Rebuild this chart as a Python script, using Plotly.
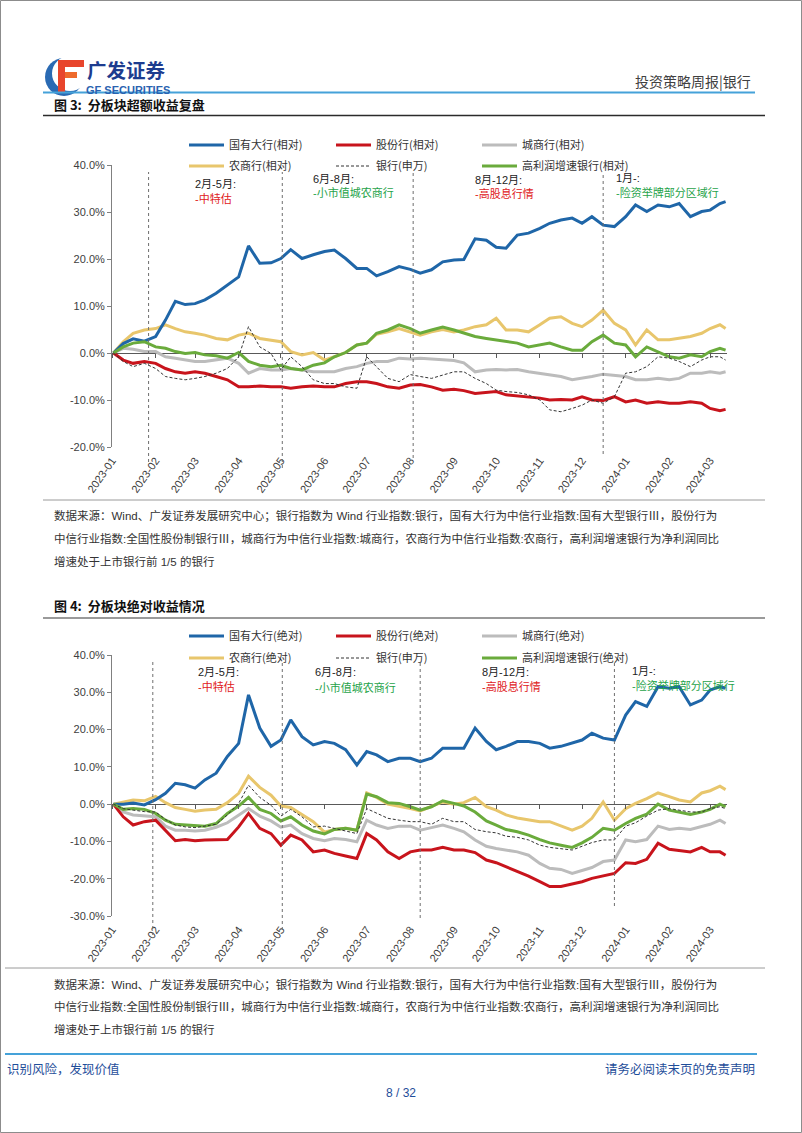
import plotly.graph_objects as go

W, H = 802, 1133


def fx(x):
    return x / W


def fy(y):
    return 1 - y / H


# ---------------- data ----------------
dates = [
    "2023-01-02", "2023-01-09", "2023-01-16", "2023-01-24",
    "2023-02-01", "2023-02-08", "2023-02-15", "2023-02-22",
    "2023-03-01", "2023-03-08", "2023-03-16", "2023-03-24",
    "2023-04-01", "2023-04-08", "2023-04-16", "2023-04-24",
    "2023-05-01", "2023-05-08", "2023-05-16", "2023-05-24",
    "2023-06-01", "2023-06-08", "2023-06-16", "2023-06-24",
    "2023-07-01", "2023-07-08", "2023-07-16", "2023-07-24",
    "2023-08-01", "2023-08-08", "2023-08-16", "2023-08-24",
    "2023-09-01", "2023-09-08", "2023-09-16", "2023-09-24",
    "2023-10-01", "2023-10-08", "2023-10-16", "2023-10-24",
    "2023-11-01", "2023-11-08", "2023-11-16", "2023-11-24",
    "2023-12-01", "2023-12-08", "2023-12-16", "2023-12-24",
    "2024-01-01", "2024-01-08", "2024-01-16", "2024-01-24",
    "2024-02-01", "2024-02-08", "2024-02-16", "2024-02-24",
    "2024-03-01", "2024-03-08", "2024-03-12",
]

month_ticks = [
    "2023-01-01", "2023-02-01", "2023-03-01", "2023-04-01", "2023-05-01",
    "2023-06-01", "2023-07-01", "2023-08-01", "2023-09-01", "2023-10-01",
    "2023-11-01", "2023-12-01", "2024-01-01", "2024-02-01", "2024-03-01",
]
month_labels = [
    "2023-01", "2023-02", "2023-03", "2023-04", "2023-05", "2023-06",
    "2023-07", "2023-08", "2023-09", "2023-10", "2023-11", "2023-12",
    "2024-01", "2024-02", "2024-03",
]

# Chart 1: excess (relative) returns, %
rel_big = [0, 2.0, 3.0, 2.5, 3.5, 7.0, 11.0, 10.3, 10.5, 11.3, 12.7, 14.5,
           16.2, 22.8, 19.1, 19.2, 20.1, 22.0, 20.1, 20.9, 21.6, 21.9, 20.1, 18.0,
           18.0, 16.4, 17.3, 18.4, 17.8, 17.0, 17.7, 19.4, 19.8, 19.9, 24.3, 24.0,
           22.5, 22.3, 25.1, 25.5, 26.5, 27.6, 28.3, 28.7, 27.6, 29.0, 27.2, 26.9,
           29.0, 31.5, 30.1, 31.5, 31.1, 31.8, 29.0, 30.1, 30.4, 31.8, 32.2]
rel_joint = [0, -1.5, -2.2, -1.8, -2.2, -3.3, -4.0, -4.3, -4.0, -4.3, -5.0, -5.7,
             -7.2, -7.2, -7.0, -7.2, -7.2, -7.5, -7.2, -7.0, -7.2, -7.2, -6.5, -6.1,
             -6.1, -6.5, -7.2, -7.5, -6.8, -6.7, -7.2, -7.9, -7.7, -8.0, -8.6, -8.4,
             -8.2, -8.9, -9.1, -9.3, -9.6, -10.0, -9.9, -10.0, -9.3, -10.0, -10.1, -9.3,
             -10.4, -10.0, -10.7, -10.4, -10.7, -10.7, -10.4, -10.7, -11.8, -12.3, -12.0]
rel_city = [0, 1.0, 0.8, 0.3, 0.3, -0.8, -1.1, -1.5, -1.8, -1.8, -1.5, -1.1,
            -2.2, -4.3, -3.3, -3.6, -3.6, -3.3, -3.6, -4.0, -4.0, -4.0, -3.3, -2.9,
            -2.2, -1.8, -1.8, -1.1, -1.3, -1.1, -1.3, -1.5, -1.6, -2.1, -4.0, -3.6,
            -3.5, -3.6, -3.5, -4.0, -4.3, -4.7, -5.0, -5.7, -5.4, -5.0, -4.5, -4.7,
            -5.0, -5.7, -5.7, -5.4, -5.7, -5.4, -4.3, -4.3, -4.0, -4.3, -4.0]
rel_rural = [0, 2.4, 4.2, 4.9, 5.2, 6.0, 5.2, 4.5, 4.2, 3.8, 3.1, 2.8,
             3.8, 4.2, 3.1, 2.8, 2.4, 0.3, -0.4, 0.1, -1.5, -0.8, 0.1, 1.7,
             2.1, 4.0, 4.5, 5.2, 4.5, 3.8, 4.5, 5.0, 4.5, 4.9, 5.6, 6.0,
             7.4, 4.9, 4.9, 4.5, 6.0, 7.4, 7.7, 6.3, 5.6, 7.0, 9.1, 6.3,
             4.9, 1.7, 4.9, 2.8, 2.8, 3.1, 3.5, 4.2, 5.2, 6.0, 5.2]
rel_sw = [0, -1.8, -2.9, -2.2, -3.3, -5.0, -5.4, -5.7, -5.4, -5.0, -4.3, -3.3,
          -0.8, 5.6, 1.3, -0.1, -3.6, -0.8, -2.9, -5.7, -6.5, -6.5, -7.2, -7.5,
          -0.8, -2.9, -5.4, -6.1, -4.6, -5.0, -5.4, -4.7, -4.0, -4.0, -5.4, -6.5,
          -7.9, -8.2, -8.4, -8.9, -10.0, -12.1, -12.5, -11.8, -11.1, -10.0, -10.7, -9.3,
          -4.3, -4.0, -2.9, -0.8, -1.1, -1.8, -2.9, -1.5, -0.8, -0.8, -1.5]
rel_growth = [0, 1.3, 2.1, 2.4, 1.3, 1.0, 0.3, -0.1, 0.1, -0.4, -0.6, -1.1,
              0.1, -1.8, -2.6, -2.9, -2.6, -3.3, -3.6, -2.6, -2.1, -0.8, 0.1, 1.7,
              2.1, 4.2, 4.9, 6.0, 5.2, 4.2, 4.9, 5.5, 4.9, 4.2, 3.5, 3.1,
              2.8, 2.4, 2.1, 1.3, 1.7, 2.1, 1.3, 0.6, 0.6, 2.4, 3.8, 2.1,
              1.7, -0.8, 1.3, 0.3, -0.8, -1.1, -0.4, -0.8, 0.3, 1.0, 0.6]

# Chart 2: absolute returns, %
abs_big = [0, 0.0, 0.3, -0.2, 1.2, 2.9, 5.6, 5.2, 4.3, 6.5, 8.3, 12.8,
           16.3, 29.3, 20.4, 15.5, 17.2, 22.6, 18.1, 15.9, 16.8, 16.3, 14.6, 10.5,
           14.1, 13.2, 11.4, 12.3, 12.3, 11.4, 12.3, 15.0, 15.0, 15.0, 20.4, 16.8,
           14.6, 15.5, 16.8, 16.8, 16.3, 15.0, 15.5, 16.3, 17.2, 19.0, 17.7, 17.2,
           23.9, 27.5, 26.2, 31.5, 31.1, 31.5, 26.6, 27.9, 30.6, 31.5, 31.1]
abs_joint = [0, -3.4, -5.6, -4.7, -4.3, -7.0, -9.8, -9.5, -9.8, -9.6, -9.5, -9.5,
             -6.1, -2.5, -6.5, -7.9, -11.0, -8.3, -9.6, -12.8, -12.3, -13.2, -13.9, -14.6,
             -7.9, -9.6, -12.8, -14.6, -12.8, -12.3, -12.3, -11.6, -12.3, -12.3, -13.0, -15.0,
             -15.7, -16.8, -18.1, -19.3, -20.8, -22.1, -22.1, -21.4, -20.8, -19.9, -19.3, -18.6,
             -15.7, -15.9, -14.8, -10.5, -12.1, -12.5, -12.8, -11.6, -12.8, -12.8, -13.7]
abs_city = [0, -2.1, -2.9, -3.2, -3.4, -5.9, -7.0, -7.0, -7.2, -7.0, -6.2, -5.0,
            -2.9, -1.2, -3.2, -4.5, -6.2, -5.6, -7.9, -9.2, -9.8, -9.2, -9.5, -10.1,
            -4.3, -5.6, -6.5, -5.9, -5.9, -7.0, -6.3, -5.6, -6.5, -7.4, -9.6, -11.3,
            -11.9, -12.3, -12.8, -13.7, -15.9, -17.2, -17.5, -18.6, -17.7, -17.0, -15.4, -15.0,
            -9.6, -10.1, -9.5, -5.9, -6.8, -6.5, -6.8, -5.9, -5.4, -4.3, -5.2]
abs_rural = [0, 0.6, 1.1, 0.9, 2.1, 0.4, -0.9, -1.4, -1.9, -1.6, -1.4, 0.4,
             2.9, 7.5, 4.5, 2.4, -0.5, -0.9, -2.9, -4.7, -7.5, -6.8, -6.5, -7.0,
             3.0, 1.8, 0.0, -0.5, -1.2, -1.8, -0.7, 0.6, 0.0, 0.4, 1.8, -0.7,
             -1.6, -2.9, -3.7, -4.1, -4.7, -4.7, -5.9, -7.0, -5.9, -3.8, 0.6, -4.3,
             -1.2, 0.2, 1.5, 3.0, 2.0, 1.1, 0.6, 3.0, 3.6, 4.8, 3.9]
abs_sw = [0, -1.2, -1.6, -2.0, -2.1, -4.1, -5.6, -6.1, -6.3, -5.9, -5.4, -2.9,
          0.2, 5.1, 1.8, -0.3, -3.2, -1.4, -3.4, -6.1, -5.9, -6.5, -7.2, -7.9,
          -1.2, -2.5, -3.8, -4.3, -4.7, -4.7, -5.4, -3.8, -4.7, -4.7, -6.8, -7.4,
          -7.7, -8.6, -8.9, -9.6, -11.0, -11.6, -11.9, -12.3, -11.3, -10.3, -9.6, -9.6,
          -5.9, -5.0, -3.2, -1.6, -1.2, -1.6, -2.1, -2.1, -1.2, -0.7, -1.2]
abs_growth = [0, -1.4, -1.2, -1.4, -2.5, -4.3, -5.4, -5.6, -5.6, -5.9, -5.2, -2.5,
              -0.5, 1.8, -1.4, -2.5, -4.5, -3.4, -5.6, -7.2, -8.0, -6.8, -6.5, -7.0,
              2.7, 2.0, 0.4, 0.2, -0.7, -1.6, -0.7, 0.9, 0.2, -0.5, -2.1, -4.5,
              -5.6, -6.8, -7.4, -8.3, -9.5, -10.4, -11.0, -11.6, -10.4, -8.9, -6.5, -7.0,
              -5.2, -3.8, -2.7, 0.0, -1.6, -2.1, -2.8, -2.1, -1.4, 0.0, -0.7]

names1 = ["国有大行(相对)", "股份行(相对)", "城商行(相对)",
          "农商行(相对)", "银行(申万)", "高利润增速银行(相对)"]
names2 = ["国有大行(绝对)", "股份行(绝对)", "城商行(绝对)",
          "农商行(绝对)", "银行(申万)", "高利润增速银行(绝对)"]

y_ticks1 = [-20, -10, 0, 10, 20, 30, 40]
y_labels1 = ["-20.0%", "-10.0%", "0.0%", "10.0%", "20.0%", "30.0%", "40.0%"]
y_ticks2 = [-30, -20, -10, 0, 10, 20, 30, 40]
y_labels2 = ["-30.0%", "-20.0%", "-10.0%", "0.0%", "10.0%", "20.0%", "30.0%", "40.0%"]

# ---------------- style ----------------
C_BLUE = "#1f66a8"
C_RED = "#c8141c"
C_GRAY = "#bcbcbc"
C_YEL = "#e8c66c"
C_BLK = "#333333"
C_GRN = "#6aab3c"

CJK = "Noto Sans CJK SC"
LAT = "Liberation Sans, Arial, Noto Sans CJK SC"

fig = go.Figure()

series1 = [rel_big, rel_joint, rel_city, rel_rural, rel_sw, rel_growth]
series2 = [abs_big, abs_joint, abs_city, abs_rural, abs_sw, abs_growth]
colors = [C_BLUE, C_RED, C_GRAY, C_YEL, C_BLK, C_GRN]
draw_order = [2, 3, 1, 0, 5, 4]


def legend_key(n):
    return "legend" if n == 0 else "legend%d" % (n + 1)


for series, names, xa, ya, lg0 in [(series1, names1, "x", "y", 0),
                                   (series2, names2, "x2", "y2", 6)]:
    for i in draw_order:
        is_sw = (i == 4)
        fig.add_trace(go.Scatter(
            x=dates, y=series[i], name=names[i], mode="lines",
            xaxis=xa, yaxis=ya,
            line=dict(color=colors[i], width=1 if is_sw else 3,
                      dash="3px,2px" if is_sw else "solid"),
            legend=legend_key(lg0 + i),
            hoverinfo="skip",
        ))

# invisible helper traces for the zero-line tick axes
fig.add_trace(go.Scatter(x=[dates[0]], y=[rel_big[0]], xaxis="x3", yaxis="y",
                         mode="markers", marker=dict(opacity=0), showlegend=False,
                         hoverinfo="skip"))
fig.add_trace(go.Scatter(x=[dates[0]], y=[abs_big[0]], xaxis="x4", yaxis="y2",
                         mode="markers", marker=dict(opacity=0), showlegend=False,
                         hoverinfo="skip"))

xrange_ = ["2023-01-01", "2024-03-13"]
xdom = [fx(112), fx(727)]

tickfont = dict(family=LAT, size=11, color="#404040")

common_x = dict(type="date", range=xrange_, domain=xdom, tickvals=month_ticks,
                ticktext=month_labels, tickangle=-55, ticks="", showline=False,
                showgrid=False, zeroline=False, tickfont=tickfont,
                ticklabelstandoff=4, automargin=False)
common_y = dict(showline=True, linecolor="#808080", linewidth=1, ticks="outside",
                ticklen=4, tickcolor="#808080", showgrid=False, zeroline=True,
                zerolinecolor="#595959", zerolinewidth=1, tickfont=tickfont,
                automargin=False)
zero_x = dict(type="date", range=xrange_, tickvals=month_ticks, ticks="outside",
              ticklen=4, tickcolor="#595959", showticklabels=False, showgrid=False,
              showline=False, zeroline=False, anchor="free", automargin=False)

fig.update_layout(
    width=W, height=H, margin=dict(l=0, r=0, t=0, b=0, pad=0, autoexpand=False),
    paper_bgcolor="white", plot_bgcolor="white",
    xaxis=dict(anchor="y", **common_x),
    yaxis=dict(anchor="x", domain=[fy(447), fy(165)], range=[-20, 40],
               tickvals=y_ticks1, ticktext=y_labels1, **common_y),
    xaxis2=dict(anchor="y2", **common_x),
    yaxis2=dict(anchor="x2", domain=[fy(916), fy(655)], range=[-30, 40],
                tickvals=y_ticks2, ticktext=y_labels2, **common_y),
    xaxis3=dict(overlaying="x", position=fy(353), **zero_x),
    xaxis4=dict(overlaying="x2", position=fy(804), **zero_x),
    showlegend=True,
)

# legends: one per trace, placed in a 3x2 grid
col_x = [184, 331, 477]
legend_layout = {}
for chart, rows in enumerate([(145, 166), (636, 658)]):
    for i in range(6):
        r, c = divmod(i, 3)
        legend_layout[legend_key(chart * 6 + i)] = dict(
            x=fx(col_x[c]), y=fy(rows[r] - 14.5), xanchor="left", yanchor="top",
            bgcolor="rgba(0,0,0,0)", borderwidth=0, itemwidth=35,
            font=dict(family=CJK, size=11, color="#333333"),
        )
fig.update_layout(**legend_layout)

shapes = []


def hline(y, x0, x1, color, width, dash="solid"):
    shapes.append(dict(type="line", xref="paper", yref="paper", x0=fx(x0), x1=fx(x1),
                       y0=fy(y), y1=fy(y), line=dict(color=color, width=width, dash=dash)))


def rect(x0, y0, x1, y1, fill):
    shapes.append(dict(type="rect", xref="paper", yref="paper", x0=fx(x0), x1=fx(x1),
                       y0=fy(y1), y1=fy(y0), fillcolor=fill, line=dict(width=0)))


# page border
shapes.append(dict(type="rect", xref="paper", yref="paper", x0=fx(0.5), x1=fx(801.5),
                   y0=fy(1132.5), y1=fy(0.5), line=dict(color="#8c8c8c", width=1)))
# logo
shapes.append(dict(type="circle", xref="paper", yref="paper", x0=fx(45), x1=fx(83),
                   y0=fy(96), y1=fy(58), fillcolor="#2a6ab3", line=dict(width=0)))
shapes.append(dict(type="circle", xref="paper", yref="paper", x0=fx(52), x1=fx(88),
                   y0=fy(91), y1=fy(56), fillcolor="white", line=dict(width=0)))
rect(58, 60, 84, 67, "#e8452c")
rect(58, 72, 77, 78, "#ee6a2c")
rect(58, 60, 65, 93, "#e8452c")

hline(92.5, 43, 755, "#45a2d9", 2)          # header rule
hline(115.5, 43, 765, "#2b2b2b", 1.5)        # under title 1
hline(500, 43, 765, "#9a9a9a", 1)            # above source 1
hline(618, 43, 765, "#9a9a9a", 2)            # under title 2
hline(968, 5, 765, "#9a9a9a", 1)             # above source 2
hline(1054, 5, 757, "#45a2d9", 2)            # footer rule

# dashed period separators
for d, y0, y1, xa in [
    ("2023-01-27", 172, 462, "x"), ("2023-05-02", 172, 468, "x"),
    ("2023-08-03", 172, 458, "x"), ("2023-12-16", 172, 454, "x"),
    ("2023-01-30", 661, 935, "x2"), ("2023-05-02", 661, 930, "x2"),
    ("2023-08-08", 661, 918, "x2"), ("2023-12-24", 661, 906, "x2"),
]:
    shapes.append(dict(type="line", xref=xa, yref="paper", x0=d, x1=d,
                       y0=fy(y1), y1=fy(y0),
                       line=dict(color="#6e6e6e", width=1, dash="3px,3px")))

fig.update_layout(shapes=shapes)

ann = []


def text(x, y, s, size=11, color="#333333", anchor="left", family=CJK, bold=False):
    ann.append(dict(xref="paper", yref="paper", x=fx(x), y=fy(y),
                    text=("<b>%s</b>" % s) if bold else s,
                    showarrow=False, xanchor=anchor, yanchor="middle",
                    font=dict(family=family, size=size, color=color)))


# header
text(85, 69.5, "广发证券", size=19.5, color="#1d3c8f", bold=True)
text(84, 89.5, "GF SECURITIES", size=11, color="#2a62b0", family=LAT, bold=True)
text(753, 81, "投资策略周报|银行", size=14, color="#404040", anchor="right")

# titles
text(52, 104, "图 3:  分板块超额收益复盘", size=13, color="#111111", bold=True)
text(52, 605, "图 4:  分板块绝对收益情况", size=13, color="#111111", bold=True)

# period notes
RED_T = "#e0201b"
GRN_T = "#1fa34a"
for (x0, ya, yb, top, bottom, col) in [
    (193, 184, 198, "2月-5月:", "-中特估", RED_T),
    (311, 179, 193, "6月-8月:", "-小市值城农商行", GRN_T),
    (473, 180, 194, "8月-12月:", "-高股息行情", RED_T),
    (614, 178, 193, "1月-:", "-险资举牌部分区域行", GRN_T),
    (196, 672, 686, "2月-5月:", "-中特估", RED_T),
    (313, 672, 687, "6月-8月:", "-小市值城农商行", GRN_T),
    (480, 672, 686, "8月-12月:", "-高股息行情", RED_T),
    (630, 671, 685, "1月-:", "-险资举牌部分区域行", GRN_T),
]:
    text(x0, ya, top, size=11, color="#222222", family=LAT)
    text(x0, yb, bottom, size=11, color=col, family=LAT)

src = [
    "数据来源：Wind、广发证券发展研究中心；银行指数为 Wind 行业指数:银行，国有大行为中信行业指数:国有大型银行Ⅲ，股份行为",
    "中信行业指数:全国性股份制银行Ⅲ，城商行为中信行业指数:城商行，农商行为中信行业指数:农商行，高利润增速银行为净利润同比",
    "增速处于上市银行前 1/5 的银行",
]
for base in (516, 984):
    for k, line in enumerate(src):
        text(52, base + k * 22.5, line, size=11.5, color="#333333", family=LAT)

# footer
text(5, 1068, "识别风险，发现价值", size=12.5, color="#1f4e9a")
text(757, 1068, "请务必阅读末页的免责声明", size=12.5, color="#1f4e9a", anchor="right")
text(401, 1093, "8 / 32", size=12, color="#1f4e9a", anchor="center", family=LAT)

fig.update_layout(annotations=ann)

fig.write_html("out.html")
